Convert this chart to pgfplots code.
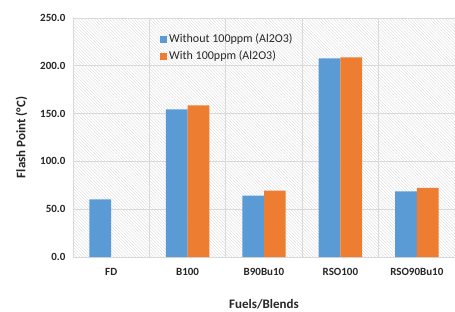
\documentclass[border=0pt]{standalone}
\usepackage{pgfplots}
\pgfplotsset{compat=1.18}
\usepackage{fontspec}
\setmainfont{Carlito}
\usetikzlibrary{patterns.meta}
\definecolor{cblue}{HTML}{5B9BD5}
\definecolor{corange}{HTML}{ED7D31}
\definecolor{gridc}{HTML}{D9D9D9}
\definecolor{txt}{HTML}{262626}
\begin{document}
\begin{tikzpicture}
\begin{axis}[
  scale only axis,
  width=382pt, height=239pt,
  ybar=0pt, bar width=21.7pt,
  xmin=-0.5, xmax=4.5,
  ymin=0, ymax=250,
  xtick={0,1,2,3,4},
  xticklabels={FD,B100,B90Bu10,RSO100,RSO90Bu10},
  minor xtick={-0.5,0.5,1.5,2.5,3.5,4.5},
  ytick={0,50,100,150,200,250},
  xminorgrids, ymajorgrids,
  grid style={draw=gridc, line width=0.8pt},
  minor grid style={draw=gridc, line width=0.8pt},
  axis line style={draw=gridc, line width=0.8pt},
  major tick length=0pt, minor tick length=0pt,
  axis background/.style={pattern={Lines[angle=-45, distance=2.2pt, line width=0.35pt]}, pattern color=gray!30},
  /pgf/number format/assume math mode=true,
  yticklabel style={/pgf/number format/fixed, /pgf/number format/fixed zerofill, /pgf/number format/precision=1, font=\bfseries\fontsize{11}{12}\selectfont, text=txt, xshift=-4pt},
  xticklabel style={font=\bfseries\fontsize{11}{12}\selectfont, text=txt, yshift=-8pt},
  scaled y ticks=false,
  xlabel={Fuels/Blends},
  ylabel={Flash Point (°C)},
  label style={font=\bfseries\fontsize{13}{14}\selectfont, text=txt},
  xlabel style={yshift=-17pt},
  ylabel style={yshift=6pt},
  legend style={at={(0.22,0.95)}, anchor=north west, draw=none, fill=none,
    font=\fontsize{12}{13}\selectfont, text=txt, row sep=2.5pt, cells={anchor=west}},
  legend image code/.code={\fill[#1] (0pt,-3.5pt) rectangle (7pt,3.5pt);},
]
\addplot[fill=cblue, draw=none] coordinates {(0,60.3) (1,154.5) (2,64.1) (3,207.8) (4,68.7)};
\addplot[fill=corange, draw=none] coordinates {(1,158.7) (2,69.4) (3,208.8) (4,72.2)};
\legend{Without 100ppm (Al2O3), With 100ppm (Al2O3)}
\end{axis}
\pgfresetboundingbox
\path ([xshift=-73pt,yshift=-54pt]current axis.south west) rectangle ([yshift=18pt]current axis.north east);
\end{tikzpicture}
\end{document}
